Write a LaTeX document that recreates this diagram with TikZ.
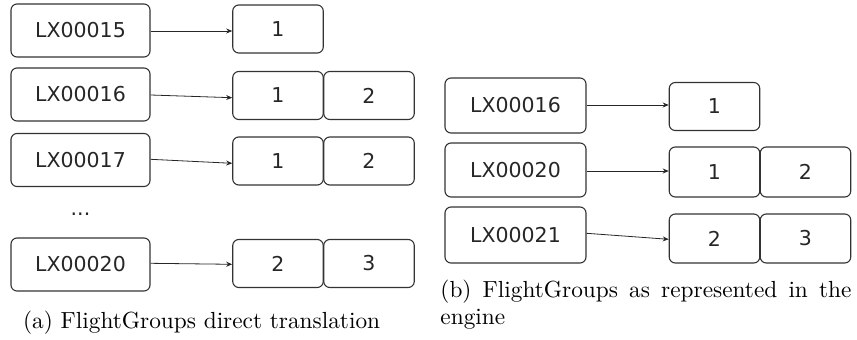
\documentclass[tikz,border=0pt]{standalone}
\usepackage{fontspec}
\newfontfamily\boxfont{DejaVu Sans}
\usetikzlibrary{arrows.meta}
\tikzset{
  keybox/.style={draw=black!80, line width=1.1pt, rounded corners=6pt, minimum width=139pt, minimum height=53pt, inner sep=0pt, text=black!85, font=\boxfont\fontsize{20.5}{22}\selectfont},
  valbox/.style={draw=black!80, line width=1.1pt, rounded corners=6pt, minimum width=90.5pt, minimum height=48pt, inner sep=0pt, text=black!85, font=\boxfont\fontsize{20.5}{22}\selectfont},
  link/.style={draw=black!85, line width=0.8pt, -{Stealth[length=6pt,width=5pt]}},
  captext/.style={font=\fontsize{10}{12}\selectfont, inner sep=0pt, scale=2.33}
}
\begin{document}
\begin{tikzpicture}[x=1pt,y=-1pt]
\useasboundingbox (0,0) rectangle (857,340);
% (a)
\node[keybox] (k15) at (80.5,30.5) {LX00015};
\node[valbox] (v15a) at (278,29) {1};
\node[keybox] (k16) at (80.5,94.5) {LX00016};
\node[valbox] (v16a) at (278,95.5) {1};
\node[valbox] (v16b) at (369,95.5) {2};
\node[keybox] (k17) at (80.5,160) {LX00017};
\node[valbox] (v17a) at (278,161) {1};
\node[valbox] (v17b) at (369,161) {2};
\node[text=black!85, font=\boxfont\fontsize{20.5}{22}\selectfont] (dots) at (80.5,214) {...};
\node[keybox] (k20) at (80.5,264.5) {LX00020};
\node[valbox] (v20a) at (278,263.5) {2};
\node[valbox] (v20b) at (369,263.5) {3};
\draw[link] ([yshift=-0.5pt]k15.east) -- ([yshift=-2pt]v15a.west);
\draw[link] ([yshift=-0.5pt]k16.east) -- ([yshift=-2.2pt]v16a.west);
\draw[link] ([yshift=0.7pt]k17.east) -- ([yshift=-2.3pt]v17a.west);
\draw[link] ([yshift=1.2pt]k20.east) -- ([yshift=-0.8pt]v20a.west);
\node[captext, anchor=base west] (capa) at (22.7,328.5) {(a) FlightGroups direct translation};
% (b)
\node[keybox, minimum width=141pt, minimum height=55pt] (r16) at (515.5,105.5) {LX00016};
\node[valbox] (w16a) at (714.5,106.5) {1};
\node[keybox, minimum width=141pt, minimum height=54pt] (r20) at (515.5,170) {LX00020};
\node[valbox, minimum height=50pt] (w20a) at (714.5,172) {1};
\node[valbox, minimum height=50pt] (w20b) at (805.5,172) {2};
\node[keybox, minimum width=141pt, minimum height=56pt] (r21) at (515.5,235) {LX00021};
\node[valbox, minimum height=49pt] (w21a) at (714.5,238.5) {2};
\node[valbox, minimum height=49pt] (w21b) at (805.5,238.5) {3};
\draw[link] ([yshift=0.5pt]r16.east) -- ([yshift=1.5pt]w16a.west);
\draw[link] ([yshift=-1pt]r20.east) -- ([yshift=1pt]w20a.west);
\draw[link] ([yshift=1.7pt]r21.east) -- ([yshift=-0.8pt]w21a.west);
\node[captext, anchor=base west, text width=176.4pt, align=justify] (capb) at (440,297) {(b) FlightGroups as represented in the engine};
\end{tikzpicture}
\end{document}
